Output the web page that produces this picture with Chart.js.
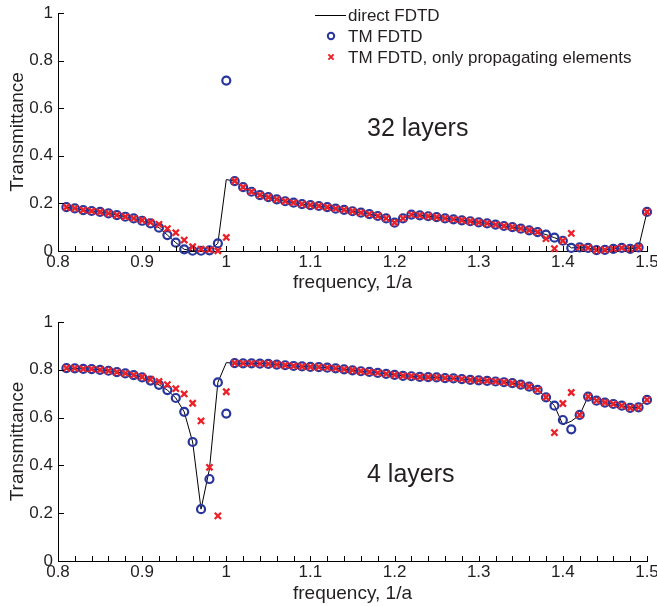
<!DOCTYPE html>
<html>
<head>
<meta charset="utf-8">
<script src="https://cdn.jsdelivr.net/npm/chart.js@4.4.0/dist/chart.umd.min.js"></script>
<style>
  html, body { margin: 0; padding: 0; background: #fff; }
  #wrap { position: relative; width: 657px; height: 606px; }
  canvas { position: absolute; left: 0; }
  #topChart { top: 0; }
  #botChart { top: 303px; }
</style>
</head>
<body>
<div id="wrap">
  <canvas id="topChart" width="657" height="303"></canvas>
  <canvas id="botChart" width="657" height="303"></canvas>
</div>
<script>
// frequency axis (1/a)
const freq = [
  0.81, 0.82, 0.83, 0.84, 0.85, 0.86, 0.87, 0.88, 0.89, 0.90,
  0.91, 0.92, 0.93, 0.94, 0.95, 0.96, 0.97, 0.98, 0.99, 1.00,
  1.01, 1.02, 1.03, 1.04, 1.05, 1.06, 1.07, 1.08, 1.09, 1.10,
  1.11, 1.12, 1.13, 1.14, 1.15, 1.16, 1.17, 1.18, 1.19, 1.20,
  1.21, 1.22, 1.23, 1.24, 1.25, 1.26, 1.27, 1.28, 1.29, 1.30,
  1.31, 1.32, 1.33, 1.34, 1.35, 1.36, 1.37, 1.38, 1.39, 1.40,
  1.41, 1.42, 1.43, 1.44, 1.45, 1.46, 1.47, 1.48, 1.49, 1.50
];

// 32 layers
const t32Direct = [
  0.184, 0.179, 0.172, 0.168, 0.164, 0.158, 0.151, 0.144, 0.137, 0.127,
  0.116, 0.098, 0.067, 0.035, 0.007, 0.001, 0.001, 0.003, 0.032, 0.300,
  0.294, 0.268, 0.249, 0.235, 0.226, 0.217, 0.209, 0.203, 0.197, 0.193,
  0.189, 0.184, 0.178, 0.173, 0.167, 0.161, 0.155, 0.147, 0.137, 0.119,
  0.137, 0.153, 0.150, 0.146, 0.142, 0.137, 0.133, 0.129, 0.125, 0.120,
  0.116, 0.111, 0.105, 0.100, 0.094, 0.087, 0.079, 0.069, 0.056, 0.043,
  0.013, 0.015, 0.013, 0.004, 0.005, 0.009, 0.013, 0.009, 0.015, 0.164
];
const t32Tm = [
  0.184, 0.179, 0.172, 0.168, 0.164, 0.158, 0.151, 0.144, 0.137, 0.127,
  0.116, 0.098, 0.067, 0.035, 0.007, 0.001, 0.001, 0.003, 0.032, 0.716,
  0.294, 0.268, 0.249, 0.235, 0.226, 0.217, 0.209, 0.203, 0.197, 0.193,
  0.189, 0.184, 0.178, 0.173, 0.167, 0.161, 0.155, 0.147, 0.137, 0.119,
  0.137, 0.153, 0.150, 0.146, 0.142, 0.137, 0.133, 0.129, 0.125, 0.120,
  0.116, 0.111, 0.105, 0.100, 0.094, 0.087, 0.079, 0.069, 0.056, 0.043,
  0.013, 0.015, 0.013, 0.004, 0.005, 0.009, 0.013, 0.009, 0.015, 0.164
];
const t32Prop = [
  0.184, 0.179, 0.172, 0.168, 0.164, 0.158, 0.151, 0.144, 0.137, 0.129,
  0.121, 0.112, 0.094, 0.077, 0.046, 0.018, 0.008, 0.005, 0.001, 0.057,
  0.294, 0.268, 0.249, 0.235, 0.226, 0.217, 0.209, 0.203, 0.197, 0.193,
  0.189, 0.184, 0.178, 0.173, 0.167, 0.161, 0.155, 0.147, 0.137, 0.119,
  0.137, 0.153, 0.150, 0.146, 0.142, 0.137, 0.133, 0.129, 0.125, 0.120,
  0.116, 0.111, 0.105, 0.100, 0.094, 0.087, 0.079, 0.052, 0.010, 0.043,
  0.074, 0.015, 0.013, 0.004, 0.005, 0.009, 0.013, 0.009, 0.015, 0.164
];

// 4 layers
const t4Direct = [
  0.807, 0.806, 0.804, 0.803, 0.800, 0.796, 0.790, 0.785, 0.778, 0.768,
  0.755, 0.737, 0.715, 0.682, 0.624, 0.498, 0.217, 0.385, 0.747, 0.830,
  0.828, 0.827, 0.827, 0.826, 0.825, 0.822, 0.819, 0.816, 0.814, 0.812,
  0.811, 0.809, 0.806, 0.802, 0.798, 0.794, 0.791, 0.787, 0.783, 0.779,
  0.775, 0.773, 0.770, 0.769, 0.768, 0.765, 0.764, 0.761, 0.758, 0.756,
  0.754, 0.751, 0.748, 0.744, 0.738, 0.730, 0.716, 0.685, 0.650, 0.570,
  0.585, 0.611, 0.688, 0.671, 0.663, 0.657, 0.650, 0.641, 0.643, 0.674
];
const t4Tm = [
  0.807, 0.806, 0.804, 0.803, 0.800, 0.796, 0.790, 0.785, 0.778, 0.768,
  0.755, 0.737, 0.715, 0.682, 0.624, 0.498, 0.217, 0.343, 0.747, 0.617,
  0.828, 0.827, 0.827, 0.826, 0.825, 0.822, 0.819, 0.816, 0.814, 0.812,
  0.811, 0.809, 0.806, 0.802, 0.798, 0.794, 0.791, 0.787, 0.783, 0.779,
  0.775, 0.773, 0.770, 0.769, 0.768, 0.765, 0.764, 0.761, 0.758, 0.756,
  0.754, 0.751, 0.748, 0.744, 0.738, 0.730, 0.716, 0.685, 0.650, 0.590,
  0.551, 0.611, 0.688, 0.671, 0.663, 0.657, 0.650, 0.641, 0.643, 0.674
];
const t4Prop = [
  0.807, 0.806, 0.804, 0.803, 0.800, 0.796, 0.790, 0.785, 0.778, 0.770,
  0.760, 0.751, 0.738, 0.721, 0.699, 0.660, 0.586, 0.392, 0.189, 0.708,
  0.828, 0.827, 0.827, 0.826, 0.825, 0.822, 0.819, 0.816, 0.814, 0.812,
  0.811, 0.809, 0.806, 0.802, 0.798, 0.794, 0.791, 0.787, 0.783, 0.779,
  0.775, 0.773, 0.770, 0.769, 0.768, 0.765, 0.764, 0.761, 0.758, 0.756,
  0.754, 0.751, 0.748, 0.744, 0.738, 0.730, 0.716, 0.685, 0.537, 0.659,
  0.705, 0.611, 0.688, 0.671, 0.663, 0.657, 0.650, 0.641, 0.643, 0.674
];

const seriesNames = ["direct FDTD", "TM FDTD", "TM FDTD, only propagating elements"];
const yTicks = [0, 0.2, 0.4, 0.6, 0.8, 1];

const TEXT = "#231f20";
const BLUE = "#28369c";
const RED = "#ec2128";
const FONT = "'Liberation Sans', Arial, Helvetica, sans-serif";

function pts(ys) {
  return freq.map((x, i) => ({ x: x, y: ys[i] }));
}

// inward tick marks, legend and panel label
const decor = {
  id: "decor",
  afterDraw(chart, args, opts) {
    const ctx = chart.ctx, xs = chart.scales.x, ys = chart.scales.y;
    const a = chart.chartArea;
    ctx.save();
    ctx.strokeStyle = "#000";
    ctx.lineWidth = 1;
    ctx.beginPath();
    xs.ticks.forEach(t => {
      const px = Math.round(xs.getPixelForValue(t.value)) + 0.5;
      ctx.moveTo(px, a.bottom);
      ctx.lineTo(px, a.bottom - 5);
    });
    ys.ticks.forEach(t => {
      const py = Math.round(ys.getPixelForValue(t.value)) + 0.5;
      ctx.moveTo(a.left, py);
      ctx.lineTo(a.left + 6, py);
    });
    ctx.stroke();

    ctx.fillStyle = TEXT;
    ctx.textBaseline = "middle";
    ctx.textAlign = "left";
    ctx.font = "25px " + FONT;
    ctx.fillText(opts.text, opts.x, opts.y);

    if (opts.legend) {
      ctx.font = "17px " + FONT;
      const lx = 331, tx = 348;
      const rows = [15, 36, 57];
      // line
      ctx.strokeStyle = "#000";
      ctx.lineWidth = 1;
      ctx.beginPath();
      ctx.moveTo(315, rows[0] + 0.5);
      ctx.lineTo(346, rows[0] + 0.5);
      ctx.stroke();
      // circle
      ctx.strokeStyle = BLUE;
      ctx.lineWidth = 2;
      ctx.beginPath();
      ctx.arc(lx, rows[1], 3.2, 0, Math.PI * 2);
      ctx.stroke();
      // cross
      ctx.strokeStyle = RED;
      ctx.lineWidth = 2;
      ctx.beginPath();
      ctx.moveTo(lx - 2.6, rows[2] - 2.6);
      ctx.lineTo(lx + 2.6, rows[2] + 2.6);
      ctx.moveTo(lx + 2.6, rows[2] - 2.6);
      ctx.lineTo(lx - 2.6, rows[2] + 2.6);
      ctx.stroke();
      ctx.fillStyle = TEXT;
      seriesNames.forEach((n, i) => ctx.fillText(n, tx, rows[i] + 1));
    }
    ctx.restore();
  }
};

function makeChart(id, direct, tm, prop, o) {
  return new Chart(document.getElementById(id), {
    type: "scatter",
    data: {
      datasets: [
        {
          label: seriesNames[2], data: pts(prop), order: 0,
          pointStyle: "crossRot", pointRadius: 4.4, pointBorderWidth: 2.3,
          borderColor: RED, backgroundColor: RED, showLine: false, clip: false
        },
        {
          label: seriesNames[1], data: pts(tm), order: 1,
          pointStyle: "circle", pointRadius: 4, pointBorderWidth: 2.2,
          borderColor: BLUE, backgroundColor: "rgba(0,0,0,0)", showLine: false, clip: false
        },
        {
          label: seriesNames[0], data: pts(direct), order: 2,
          showLine: true, borderColor: "#000", borderWidth: 1, pointRadius: 0,
          tension: 0, clip: false
        }
      ]
    },
    options: {
      responsive: false,
      animation: false,
      events: [],
      layout: { padding: { top: o.padTop, right: 10, left: 0, bottom: 0 } },
      plugins: {
        legend: { display: false },
        tooltip: { enabled: false },
        decor: { text: o.text, x: 367, y: o.textY, legend: o.legend }
      },
      scales: {
        x: {
          type: "linear", min: 0.8, max: 1.5,
          grid: { display: false, drawTicks: false },
          border: { display: true, color: "#000", width: 1 },
          ticks: {
            stepSize: 0.02, autoSkip: false, maxRotation: 0, padding: 1,
            color: TEXT, font: { family: FONT, size: 17 },
            callback: v => {
              const d = Math.round(v * 10);
              return Math.abs(v * 10 - d) < 1e-6 ? String(d / 10) : "";
            }
          },
          title: {
            display: true, text: "frequency, 1/a", color: TEXT,
            font: { family: FONT, size: 19 }, padding: { top: 0, bottom: o.titlePad }
          },
          afterFit: s => { s.height = o.xHeight; s.paddingLeft = 0; s.paddingRight = 0; }
        },
        y: {
          min: 0, max: 1,
          grid: { display: false, drawTicks: false },
          border: { display: true, color: "#000", width: 1 },
          afterBuildTicks: s => { s.ticks = yTicks.map(v => ({ value: v })); },
          ticks: {
            padding: 5, color: TEXT, font: { family: FONT, size: 17 },
            callback: v => String(Math.round(v * 10) / 10)
          },
          title: {
            display: true, text: "Transmittance", color: TEXT,
            font: { family: FONT, size: 19 }, padding: { top: 6, bottom: 0 }
          },
          afterFit: s => { s.width = 58; s.paddingTop = 0; s.paddingBottom = 0; }
        }
      }
    },
    plugins: [decor]
  });
}

makeChart("topChart", t32Direct, t32Tm, t32Prop,
  { padTop: 13, xHeight: 52, titlePad: 9, text: "32 layers", textY: 129, legend: true });
makeChart("botChart", t4Direct, t4Tm, t4Prop,
  { padTop: 19, xHeight: 45, titlePad: 1, text: "4 layers", textY: 172, legend: false });
</script>
</body>
</html>
